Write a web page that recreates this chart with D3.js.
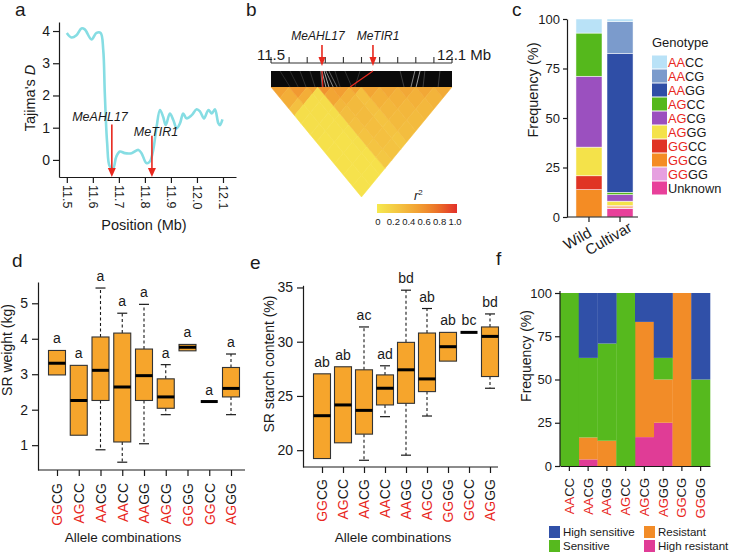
<!DOCTYPE html>
<html><head><meta charset="utf-8">
<script src="https://cdn.jsdelivr.net/npm/d3@7"></script>
<style>body{margin:0;background:#fff} text{font-family:"Liberation Sans",Arial,Helvetica,sans-serif}</style>
</head><body><svg id="c" width="729" height="553"></svg>
<script>
// ---------- DATA ----------
// Panel a: Tajima's D
const tajPos = [11.500,11.518,11.537,11.556,11.569,11.595,11.614,11.630,11.640,11.646,11.655,11.665,11.678,11.690,11.704,11.723,11.749,11.775,11.787,11.806,11.819,11.832,11.845,11.858,11.870,11.880,11.896,11.909,11.922,11.935,11.947,11.960,11.980,11.999,12.012,12.027,12.044,12.057,12.069,12.082,12.088,12.098];
const tajD   = [3.94,3.80,3.87,4.08,4.05,3.74,3.94,3.94,3.41,2.06,0.52,-0.20,-0.26,0.10,0.26,0.21,0.21,0.31,0.21,-0.10,-0.05,0.31,1.03,1.55,1.34,1.08,1.44,1.24,0.98,1.14,1.44,1.29,1.39,1.57,1.50,1.29,1.55,1.44,1.57,1.14,1.08,1.26];
const tajXTicks = [11.5,11.6,11.7,11.8,11.9,12.0,12.1];
const tajYTicks = [0,1,2,3,4];
const genes = ["MeAHL17","MeTIR1"];
const genePos = [11.673,11.827];
const geneArrowTop = [1.10,0.75];

// Panel b: LD heatmap
const rulerTicks = [11.50,11.56,11.62,11.68,11.74,11.80,11.86,11.92,11.98,12.04,12.10];
const ldBreaks = [11.50,11.56,11.62,11.656,11.70,11.76,11.80,11.86,11.92,11.98,12.04,12.10];
const ldR2 = [
 [0.50,0.42,0.30,0.08,0.07,0.07,0.06,0.06,0.06,0.05,0.05],
 [0,   0.55,0.42,0.09,0.08,0.07,0.07,0.06,0.06,0.06,0.05],
 [0,   0,   0.50,0.10,0.09,0.08,0.08,0.07,0.07,0.06,0.06],
 [0,   0,   0,   0.58,0.48,0.36,0.32,0.30,0.28,0.27,0.25],
 [0,   0,   0,   0,   0.52,0.40,0.34,0.33,0.31,0.30,0.28],
 [0,   0,   0,   0,   0,   0.50,0.30,0.30,0.28,0.28,0.26],
 [0,   0,   0,   0,   0,   0,   0.48,0.40,0.36,0.34,0.32],
 [0,   0,   0,   0,   0,   0,   0,   0.46,0.40,0.36,0.33],
 [0,   0,   0,   0,   0,   0,   0,   0,   0.46,0.40,0.35],
 [0,   0,   0,   0,   0,   0,   0,   0,   0,   0.46,0.38],
 [0,   0,   0,   0,   0,   0,   0,   0,   0,   0,   0.44]];
const bandTop = [11.530,11.563,11.596,11.629,11.665,11.669,11.676,11.682,11.692,11.712,11.745,11.795,11.928,11.977,11.994,12.010,12.060];
const bandBot = [11.563,11.590,11.616,11.646,11.670,11.682,11.692,11.706,11.719,11.729,11.768,11.778,11.941,11.964,11.981,12.004,12.054];
const bandShade = ["#3a3a3a","#3a3a3a","#444","#444","#aaa","#ddd","#eee","#bbb","#888","#444","#444","#444","#555","#bbb","#ddd","#555","#555"];
const geneBandTop = [11.669,11.838];
const geneBandBot = [11.672,11.762];
const r2Ticks = [0,0.2,0.4,0.6,0.8,1.0];

// Panel c: genotype frequencies
const groups = ["Wild","Cultivar"];
const genoKeys = ["AACC","AACG","AAGG","AGCC","AGCG","AGGG","GGCC","GGCG","GGGG","Unknown"];
const genoColors = ["#b9e2f7","#7b9bcc","#2f4ea6","#55b81c","#9b50bf","#f4e24a","#e03424","#f48c24","#e6a0e0","#e8409a"];
const wildFreq     = [7.1,0,0,21.8,35.8,14.5,7.0,13.8,0,0];
const cultivarFreq = [1.3,16.0,70.2,1.2,3.3,2.2,0.5,0.7,0.3,4.3];
const freqTicks = [0,25,50,75,100];

// Panel d: SR weight
const dCats = ["GGCG","AGCC","AACG","AACC","AAGG","AGCG","GGGG","GGCC","AGGG"];
const dQ1  = [2.98,1.28,2.26,1.09,2.26,2.04,3.66,2.23,2.36];
const dMed = [3.31,2.26,3.11,2.64,2.96,2.36,3.76,2.23,2.60];
const dQ3  = [3.67,3.25,4.05,4.16,3.71,2.87,3.84,2.23,3.19];
const dLo  = [null,null,0.87,0.52,1.04,1.86,null,null,1.86];
const dHi  = [null,null,5.43,4.72,4.97,3.27,null,null,3.57];
const dSig = ["a","a","a","a","a","a","a","a","a"];
const dTicks = [1,2,3,4,5];

// Panel e: SR starch content
const eCats = ["GGCG","AGCC","AACG","AACC","AAGG","AGCG","GGGG","GGCC","AGGG"];
const eQ1  = [19.23,20.68,21.48,24.17,24.32,25.40,28.21,30.86,26.79];
const eMed = [23.18,24.17,23.67,25.71,27.41,26.57,29.54,30.86,30.49];
const eQ3  = [27.04,27.69,27.41,26.94,29.94,30.80,30.86,30.86,31.36];
const eLo  = [null,null,19.07,23.09,19.54,23.15,null,null,25.71];
const eHi  = [null,null,31.36,27.78,34.75,33.06,null,null,32.56];
const eSig = ["ab","ab","ac","ad","bd","ab","ab","bc","bd"];
const eTicks = [20,25,30,35];

// Panel f: resistance frequencies
const fCats = ["AACC","AACG","AAGG","AGCC","AGCG","AGGG","GGCG","GGGG"];
const fKeys = ["High resistant","Resistant","Sensitive","High sensitive"];
const fColors = ["#e03c96","#f28c28","#56b91e","#3050a8"];
const fHR = [0,3.8,0,0,16.7,25.0,0,0];
const fR  = [0,12.7,14.6,0,66.6,25.0,100,0];
const fS  = [100,46.0,56.2,100,0,12.5,0,50];
const fHS = [0,37.5,29.2,0,16.7,37.5,0,50];

// ---------- DRAW ----------
const RED = "#e8281e", INK = "#1a1a1a";
const svg = d3.select("#c");
svg.append("rect").attr("width",729).attr("height",553).attr("fill","#fff");

function styleAxis(g, fs){
  g.selectAll("path,line").attr("stroke",INK).attr("stroke-width",1.2);
  g.selectAll("text").attr("font-size",fs).attr("fill",INK);
}
function panelLabel(t,x,y){ svg.append("text").attr("x",x).attr("y",y).attr("font-size",19).attr("fill",INK).text(t); }
function yTitle(x,y,fs,parts){
  const t = svg.append("text").attr("transform",`translate(${x},${y}) rotate(-90)`).attr("text-anchor","middle").attr("font-size",fs).attr("fill",INK);
  parts.forEach(p=>{ const s=t.append("tspan").text(p[0]); if(p[1]) s.attr("font-style","italic"); });
}
function colorCat(sel, s){
  sel.text(null);
  if(s.length===4){
    sel.append("tspan").attr("fill",RED).text(s.slice(0,2));
    sel.append("tspan").attr("fill",INK).text(s.slice(2));
  } else sel.append("tspan").attr("fill",INK).text(s);
}
function arrow(g,x,y1,y2,hw,hl){
  g.append("line").attr("x1",x).attr("x2",x).attr("y1",y1).attr("y2",y2-hl+1).attr("stroke",RED).attr("stroke-width",1.6);
  g.append("path").attr("d",`M${x-hw},${y2-hl}L${x+hw},${y2-hl}L${x},${y2}Z`).attr("fill",RED);
}

// ---- Panel a ----
panelLabel("a",15,16);
const ax = d3.scaleLinear().domain([11.47,12.15]).range([59,236]);
const ay = d3.scaleLinear().domain([-0.53,4.28]).range([177,22]);
const gA = svg.append("g");
gA.append("path").datum(tajPos.map((p,i)=>[p,tajD[i]]))
  .attr("d",d3.line().x(d=>ax(d[0])).y(d=>ay(d[1])).curve(d3.curveCatmullRom.alpha(0.5)))
  .attr("fill","none").attr("stroke","#86dde3").attr("stroke-width",2.6).attr("stroke-linejoin","round");
genes.forEach((g,i)=>{
  arrow(gA, ax(genePos[i]), ay(geneArrowTop[i]), 177, 4, 9);
});
gA.append("text").attr("x",100).attr("y",121).attr("text-anchor","middle").attr("font-size",12.5).attr("font-style","italic").attr("fill",INK).text(genes[0]);
gA.append("text").attr("x",156).attr("y",136).attr("text-anchor","middle").attr("font-size",12.5).attr("font-style","italic").attr("fill",INK).text(genes[1]);
const gAy = gA.append("g").attr("transform","translate(59,0)").call(d3.axisLeft(ay).tickValues(tajYTicks).tickFormat(d3.format("d")).tickSize(6).tickSizeOuter(0).tickPadding(3));
styleAxis(gAy,14);
const gAx = gA.append("g").attr("transform","translate(0,177)").call(d3.axisBottom(ax).tickValues(tajXTicks).tickFormat(d3.format(".1f")).tickSize(6).tickSizeOuter(0));
styleAxis(gAx,12.5);
gAx.selectAll("text").attr("y",0).attr("x",8).attr("dy","0.35em").attr("transform","rotate(90)").attr("text-anchor","start");
yTitle(35,98,14.5,[["Tajima's "],["D",true]]);
svg.append("text").attr("x",144).attr("y",230).attr("text-anchor","middle").attr("font-size",14.5).attr("fill",INK).text("Position (Mb)");

// ---- Panel b ----
panelLabel("b",246,16);
const xb = d3.scaleLinear().domain([11.5,12.1]).range([271,452]);
const K = 1.215, TOP = 87;
const pt = (u,v)=>[(xb(u)+xb(v))/2, TOP + (xb(v)-xb(u))/2*K];
const ldColor = d3.scaleLinear().domain([0,0.25,0.5,0.75,1]).range(["#f6e94e","#f4c743","#f2a233","#ec7428","#e2302a"]);
const gB = svg.append("g");
const nSeg = ldBreaks.length-1;
for(let i=0;i<nSeg;i++){
  for(let j=i;j<nSeg;j++){
    const a1=ldBreaks[i], b1=ldBreaks[i+1], a2=ldBreaks[j], b2=ldBreaks[j+1];
    const poly = i===j ? [pt(a1,a1),pt(a1,b1),pt(b1,b1)] : [pt(a1,a2),pt(b1,a2),pt(b1,b2),pt(a1,b2)];
    const c = ldColor(ldR2[i][j]);
    gB.append("path").attr("d","M"+poly.map(p=>p.join(",")).join("L")+"Z").attr("fill",c).attr("stroke",c).attr("stroke-width",0.6);
  }
}
// genomic band
gB.append("rect").attr("x",xb(11.5)).attr("y",71).attr("width",xb(12.1)-xb(11.5)).attr("height",16).attr("fill","#0a0a0a");
bandTop.forEach((t,i)=>{
  gB.append("line").attr("x1",xb(t)).attr("y1",71).attr("x2",xb(bandBot[i])).attr("y2",87).attr("stroke",bandShade[i]).attr("stroke-width",0.7);
});
geneBandTop.forEach((t,i)=>{
  gB.append("line").attr("x1",xb(t)).attr("y1",71).attr("x2",xb(geneBandBot[i])).attr("y2",87).attr("stroke",RED).attr("stroke-width",1.2);
});
// ruler
gB.append("line").attr("x1",xb(11.5)).attr("x2",xb(12.1)).attr("y1",63).attr("y2",63).attr("stroke","#333").attr("stroke-width",1.1);
rulerTicks.forEach(t=>gB.append("line").attr("x1",xb(t)).attr("x2",xb(t)).attr("y1",63).attr("y2",57).attr("stroke","#333").attr("stroke-width",1.1));
gB.append("text").attr("x",xb(11.5)).attr("y",60).attr("text-anchor","middle").attr("font-size",15).attr("fill",INK).text("11.5");
gB.append("text").attr("x",xb(12.1)-15).attr("y",60).attr("font-size",15).attr("fill",INK).text("12.1 Mb");
genes.forEach((g,i)=>{
  arrow(gB, xb(geneBandTop[i]), 45, 66, 3.5, 9);
});
gB.append("text").attr("x",318).attr("y",40).attr("text-anchor","middle").attr("font-size",12).attr("font-style","italic").attr("fill",INK).text(genes[0]);
gB.append("text").attr("x",378).attr("y",40).attr("text-anchor","middle").attr("font-size",12).attr("font-style","italic").attr("fill",INK).text(genes[1]);
// legend
const defs = svg.append("defs");
const grad = defs.append("linearGradient").attr("id","r2g");
d3.range(0,1.0001,0.1).forEach(v=>grad.append("stop").attr("offset",v).attr("stop-color",ldColor(v)));
const lx = d3.scaleLinear().domain([0,1]).range([378,455]);
gB.append("rect").attr("x",lx(0)-1).attr("y",204).attr("width",lx(1)-lx(0)+3).attr("height",9).attr("fill","url(#r2g)");
r2Ticks.forEach(v=>gB.append("text").attr("x",lx(v)).attr("y",225).attr("text-anchor","middle").attr("font-size",9.5).attr("fill",INK).text(v===0?"0":v.toFixed(1)));
const r2t = gB.append("text").attr("x",414).attr("y",200).attr("font-size",13).attr("fill",INK);
r2t.append("tspan").attr("font-style","italic").text("r");
r2t.append("tspan").attr("font-size",8).attr("dy",-5).text("2");

// ---- Panel c ----
panelLabel("c",512,16);
const cx = d3.scaleBand().domain(groups).range([571,638]).paddingInner(0.161).paddingOuter(0.16);
const cy = d3.scaleLinear().domain([0,100]).range([217,19]);
const cRows = groups.map((g,gi)=>{ const o={group:g}; genoKeys.forEach((k,ki)=>o[k]=(gi===0?wildFreq:cultivarFreq)[ki]); return o; });
const stackOrder = genoKeys.slice().reverse();
const cStack = d3.stack().keys(stackOrder)(cRows);
const gC = svg.append("g");
cStack.forEach(layer=>{
  const col = genoColors[genoKeys.indexOf(layer.key)];
  layer.forEach(d=>{
    if(d[1]-d[0] <= 0) return;
    gC.append("rect").attr("x",cx(d.data.group)).attr("width",cx.bandwidth())
      .attr("y",cy(d[1])).attr("height",cy(d[0])-cy(d[1])).attr("fill",col).attr("stroke","#fff").attr("stroke-width",0.5);
  });
});
const gCy = gC.append("g").attr("transform","translate(567,0)").call(d3.axisLeft(cy).tickValues(freqTicks).tickSize(4).tickSizeOuter(0).tickPadding(3));
styleAxis(gCy,13);
const gCx = gC.append("g").attr("transform","translate(0,217)").call(d3.axisBottom(cx).tickSize(5).tickSizeOuter(0));
styleAxis(gCx,15);
gCx.select(".domain").attr("d","M567,0H638");
gCx.selectAll("text").attr("y",0).attr("dy",0).attr("transform","translate(-9,26) rotate(-30)").attr("text-anchor","middle");
yTitle(538,90,14.5,[["Frequency (%)"]]);
gC.append("text").attr("x",652).attr("y",47).attr("font-size",13).attr("fill",INK).text("Genotype");
genoKeys.forEach((k,i)=>{
  const yc = 62 + i*14;
  gC.append("rect").attr("x",652).attr("y",yc-6.5).attr("width",15).attr("height",13).attr("fill",genoColors[i]);
  const t = gC.append("text").attr("x",668).attr("y",yc+4.6).attr("font-size",12.8);
  colorCat(t,k);
});

// ---- Panels d & e ----
function boxPanel(opt){
  const g = svg.append("g");
  const x = d3.scalePoint().domain(opt.cats).range(opt.xr);
  const y = d3.scaleLinear().domain(opt.yd).range(opt.yr);
  const bw = 17;
  opt.cats.forEach((c,i)=>{
    const cxp = x(c);
    if(opt.hi[i]!=null){
      g.append("line").attr("x1",cxp).attr("x2",cxp).attr("y1",y(opt.q3[i])).attr("y2",y(opt.hi[i])).attr("stroke",INK).attr("stroke-width",1.1).attr("stroke-dasharray","3,2.5");
      g.append("line").attr("x1",cxp-5).attr("x2",cxp+5).attr("y1",y(opt.hi[i])).attr("y2",y(opt.hi[i])).attr("stroke",INK).attr("stroke-width",1.2);
    }
    if(opt.lo[i]!=null){
      g.append("line").attr("x1",cxp).attr("x2",cxp).attr("y1",y(opt.q1[i])).attr("y2",y(opt.lo[i])).attr("stroke",INK).attr("stroke-width",1.1).attr("stroke-dasharray","3,2.5");
      g.append("line").attr("x1",cxp-5).attr("x2",cxp+5).attr("y1",y(opt.lo[i])).attr("y2",y(opt.lo[i])).attr("stroke",INK).attr("stroke-width",1.2);
    }
    if(opt.q3[i]>opt.q1[i]){
      g.append("rect").attr("x",cxp-bw/2).attr("width",bw).attr("y",y(opt.q3[i])).attr("height",y(opt.q1[i])-y(opt.q3[i]))
        .attr("fill","#f6a52c").attr("stroke","#333").attr("stroke-width",1.1);
    }
    g.append("line").attr("x1",cxp-bw/2).attr("x2",cxp+bw/2).attr("y1",y(opt.med[i])).attr("y2",y(opt.med[i])).attr("stroke","#000").attr("stroke-width",3);
    const top = opt.hi[i]!=null ? opt.hi[i] : opt.q3[i];
    g.append("text").attr("x",cxp).attr("y",y(top)-7).attr("text-anchor","middle").attr("font-size",14).attr("fill",INK).text(opt.sig[i]);
  });
  const gy = g.append("g").attr("transform",`translate(${opt.xAxisStart},0)`).call(d3.axisLeft(y).tickValues(opt.ticks).tickFormat(d3.format("d")).tickSize(6).tickSizeOuter(0).tickPadding(4));
  styleAxis(gy,14);
  const gx = g.append("g").attr("transform",`translate(0,${opt.yr[0]})`).call(d3.axisBottom(x).tickSize(6).tickSizeOuter(0));
  styleAxis(gx,14);
  gx.select(".domain").attr("d",`M${opt.xAxisStart},0H${opt.xAxisEnd}`);
  gx.selectAll("text").attr("y",0).attr("x",-opt.labOff).attr("dy","0.35em").attr("transform","rotate(-90)").attr("text-anchor","end")
    .each(function(d){ colorCat(d3.select(this), d); });
  return g;
}
panelLabel("d",12,267);
boxPanel({cats:dCats,q1:dQ1,med:dMed,q3:dQ3,lo:dLo,hi:dHi,sig:dSig,ticks:dTicks,
  xr:[57,231], yd:[0.3,5.6], yr:[470,282], xAxisStart:38, xAxisEnd:245, labOff:13});
yTitle(12,350,14,[["SR weight (kg)"]]);
svg.append("text").attr("x",123).attr("y",542).attr("text-anchor","middle").attr("font-size",13.5).attr("fill",INK).text("Allele combinations");

panelLabel("e",250,269);
boxPanel({cats:eCats,q1:eQ1,med:eMed,q3:eQ3,lo:eLo,hi:eHi,sig:eSig,ticks:eTicks,
  xr:[322,490], yd:[18.45,35.2], yr:[467,285.3], xAxisStart:303, xAxisEnd:498, labOff:12});
yTitle(274,364,14,[["SR starch content (%)"]]);
svg.append("text").attr("x",393).attr("y",542).attr("text-anchor","middle").attr("font-size",13.5).attr("fill",INK).text("Allele combinations");

// ---- Panel f ----
panelLabel("f",496,265);
const fx = d3.scaleBand().domain(fCats).range([560,710]).padding(0);
const fy = d3.scaleLinear().domain([0,100]).range([466,293]);
const fRows = fCats.map((c,i)=>({cat:c,"High resistant":fHR[i],"Resistant":fR[i],"Sensitive":fS[i],"High sensitive":fHS[i]}));
const fStack = d3.stack().keys(fKeys)(fRows);
const gF = svg.append("g");
fStack.forEach((layer,li)=>{
  layer.forEach(d=>{
    if(d[1]-d[0]<=0) return;
    gF.append("rect").attr("x",fx(d.data.cat)).attr("width",fx.bandwidth()+0.3).attr("y",fy(d[1])).attr("height",fy(d[0])-fy(d[1])).attr("fill",fColors[li]);
  });
});
const gFy = gF.append("g").attr("transform","translate(560,0)").call(d3.axisLeft(fy).tickValues(freqTicks).tickSize(5).tickSizeOuter(0).tickPadding(3));
styleAxis(gFy,13);
gFy.select(".domain").attr("d","M0,466V291");
const gFx = gF.append("g").attr("transform","translate(0,466)").call(d3.axisBottom(fx).tickSize(5).tickSizeOuter(0));
styleAxis(gFx,13);
gFx.selectAll("text").attr("y",0).attr("x",-12).attr("dy","0.35em").attr("transform","rotate(-90)").attr("text-anchor","end")
  .each(function(d){ colorCat(d3.select(this), d); });
yTitle(531,356,14,[["Frequency (%)"]]);
const legF = [["High sensitive",549,526,3],["Sensitive",549,540,2],["Resistant",644,526,1],["High resistant",644,540,0]];
legF.forEach(l=>{
  gF.append("rect").attr("x",l[1]).attr("y",l[2]).attr("width",11).attr("height",12).attr("fill",fColors[l[3]]);
  gF.append("text").attr("x",l[1]+14).attr("y",l[2]+10).attr("font-size",11.5).attr("fill",INK).text(l[0]);
});
</script></body></html>
